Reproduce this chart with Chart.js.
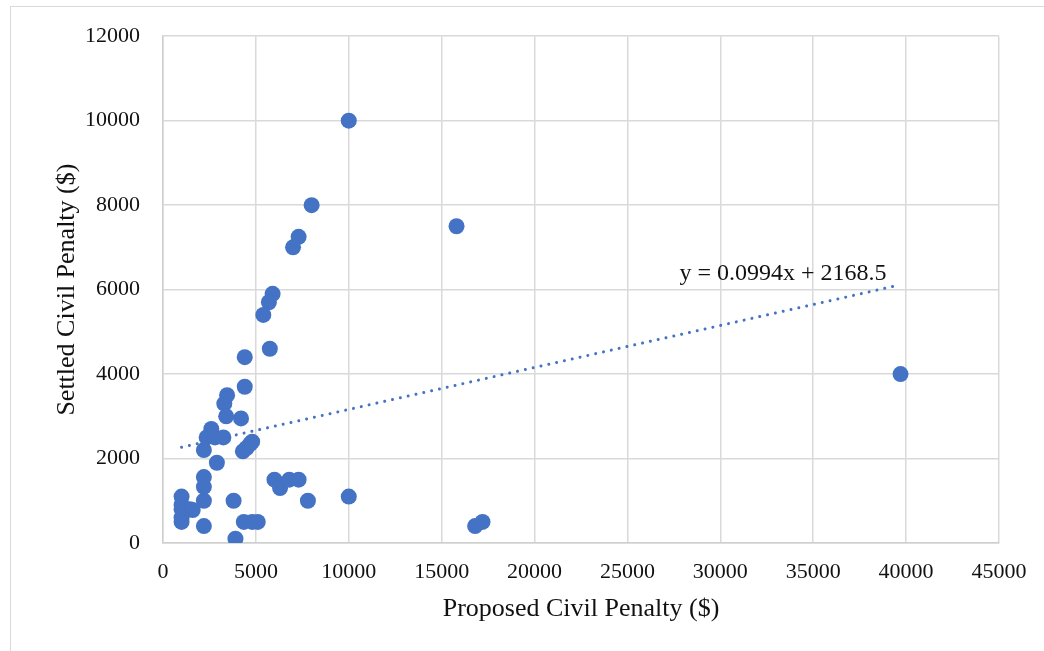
<!DOCTYPE html>
<html>
<head>
<meta charset="utf-8">
<script src="https://cdn.jsdelivr.net/npm/chart.js@4/dist/chart.umd.min.js"></script>
<style>
  html, body { margin: 0; padding: 0; background: #ffffff; }
  #wrap { position: relative; width: 1044px; height: 651px; overflow: hidden; }
  #frame { position: absolute; left: 10px; top: 6px; width: 1100px; height: 700px; border: 1px solid #d9d9d9; box-sizing: border-box; }
  canvas { position: absolute; left: 0; top: 0; }
</style>
</head>
<body>
<div id="wrap">
  <div id="frame"></div>
  <canvas id="c" width="1044" height="651"></canvas>
</div>
<script>
// Proposed civil penalty ($) for each case
const proposedPenalty = [
  10000, 8000, 15800, 7300, 7000, 5900, 5700, 5400, 5750, 4400,
  4400, 39700, 3450, 3300, 3400, 4200, 2600, 2350, 2800, 3250,
  4300, 4500, 4700, 4800, 2200, 2900, 2200, 2200, 2200, 1000,
  1000, 1000, 1450, 1600, 1000, 1000, 2200, 3800, 4350, 4800,
  5100, 3900, 6000, 6300, 6800, 7300, 7800, 10000, 16800, 17200
];
// Settled civil penalty ($) for each case
const settledPenalty = [
  10000, 8000, 7500, 7250, 7000, 5900, 5700, 5400, 4600, 4400,
  3700, 4000, 3500, 3300, 3000, 2950, 2700, 2500, 2500, 2500,
  2170, 2250, 2350, 2400, 2200, 1900, 1560, 1330, 1000, 1100,
  900, 800, 800, 780, 600, 500, 400, 1000, 500, 500,
  500, 100, 1500, 1300, 1500, 1500, 1000, 1100, 400, 500
];
// Linear trendline as reported on the chart
const trendSlope = 0.0994;
const trendIntercept = 2168.5;
const trendLabel = 'y = 0.0994x + 2168.5';
const trendXRange = [1000, 39300];

const xTicks = [0, 5000, 10000, 15000, 20000, 25000, 30000, 35000, 40000, 45000];
const yTicks = [0, 2000, 4000, 6000, 8000, 10000, 12000];

const xTitle = 'Proposed Civil Penalty ($)';
const yTitle = 'Settled Civil Penalty ($)';

const points = proposedPenalty.map((x, i) => ({ x: x, y: settledPenalty[i] }));
const trendPoints = trendXRange.map(x => ({ x: x, y: trendSlope * x + trendIntercept }));

const SERIF = "'Liberation Serif', 'Times New Roman', serif";
const BLUE = '#4472C4';
const GRID = '#d9d9d9';

const eqLabelPlugin = {
  id: 'eqLabel',
  afterDatasetsDraw(chart) {
    const xs = chart.scales.x, ys = chart.scales.y;
    const ctx = chart.ctx;
    ctx.save();
    ctx.font = '24px ' + SERIF;
    ctx.fillStyle = '#111111';
    ctx.textAlign = 'right';
    ctx.textBaseline = 'middle';
    ctx.fillText(trendLabel, xs.getPixelForValue(38950), ys.getPixelForValue(6380));
    ctx.restore();
  }
};

new Chart(document.getElementById('c'), {
  type: 'scatter',
  data: {
    datasets: [
      {
        label: 'Cases',
        data: points,
        backgroundColor: BLUE,
        borderColor: BLUE,
        pointRadius: 8,
        pointHoverRadius: 8,
        borderWidth: 0,
        order: 2
      },
      {
        type: 'line',
        label: 'Linear trend',
        data: trendPoints,
        borderColor: BLUE,
        borderWidth: 3,
        borderDash: [0.01, 8],
        borderCapStyle: 'round',
        pointRadius: 0,
        fill: false,
        order: 1
      }
    ]
  },
  options: {
    responsive: false,
    animation: false,
    devicePixelRatio: 1,
    layout: { padding: { left: 40, right: 45, top: 35, bottom: 16 } },
    plugins: {
      legend: { display: false },
      tooltip: { enabled: false },
      title: { display: false }
    },
    scales: {
      x: {
        type: 'linear',
        min: 0, max: 45000,
        afterBuildTicks(scale) { scale.ticks = xTicks.map(v => ({ value: v })); },
        afterFit(scale) { scale.height = 92; },
        grid: { color: GRID, lineWidth: 1.5, drawTicks: false },
        border: { color: '#cfcfcf', width: 1.5 },
        ticks: { font: { family: SERIF, size: 22 }, color: '#111111', padding: 16, maxRotation: 0, callback: v => String(v) },
        title: { display: true, text: xTitle, font: { family: SERIF, size: 26 }, color: '#111111', padding: { top: 10, bottom: 10 } }
      },
      y: {
        type: 'linear',
        min: 0, max: 12000,
        afterBuildTicks(scale) { scale.ticks = yTicks.map(v => ({ value: v })); },
        afterFit(scale) { scale.width = 123; },
        grid: { color: GRID, lineWidth: 1.5, drawTicks: false },
        border: { color: '#cfcfcf', width: 1.5 },
        ticks: { font: { family: SERIF, size: 22 }, color: '#111111', padding: 23, callback: v => String(v) },
        title: { display: true, text: yTitle, font: { family: SERIF, size: 26 }, color: '#111111', padding: { top: 12, bottom: 12 } }
      }
    }
  },
  plugins: [eqLabelPlugin]
});
</script>
</body>
</html>
